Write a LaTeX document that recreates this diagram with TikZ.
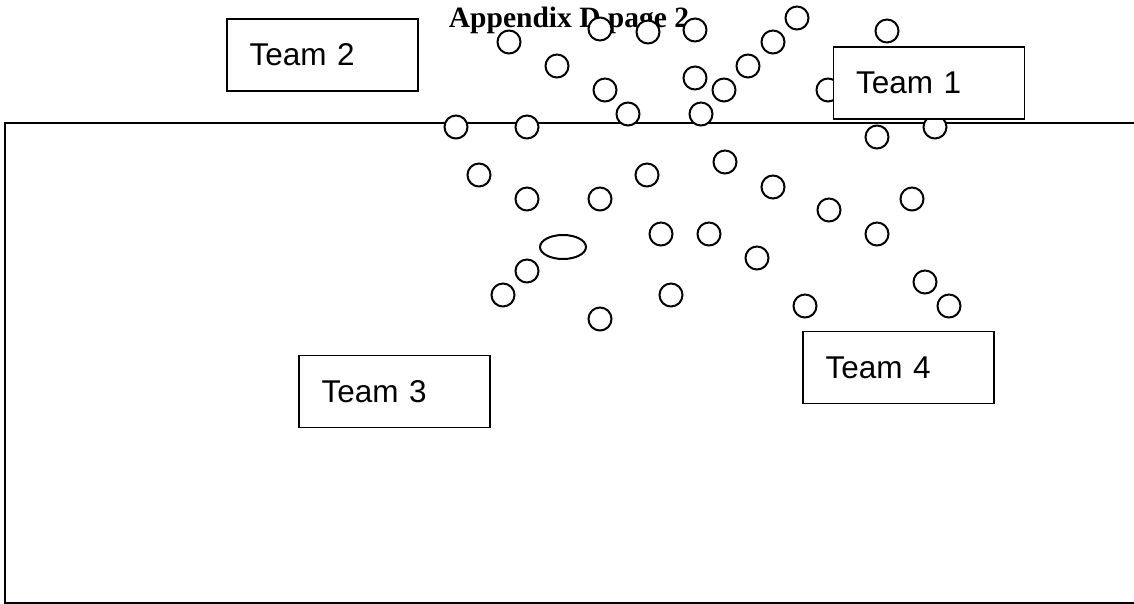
\documentclass[tikz,border=0pt]{standalone}
\usetikzlibrary{shapes.geometric}
\usepackage{fontspec}
\setmainfont{Liberation Serif}
\newfontfamily\teamfont{Liberation Sans}
\begin{document}
\begin{tikzpicture}[x=1pt,y=-1pt,
  dot/.style={circle,draw=black,fill=white,line width=2pt,minimum size=23pt,inner sep=0pt},
  oval/.style={ellipse,draw=black,fill=white,line width=2pt,minimum width=46pt,minimum height=24pt,inner sep=0pt},
  teambox/.style={draw=black,fill=white,line width=1.8pt,minimum height=72pt,
    text width=146pt,inner xsep=22.5pt,inner ysep=0pt,align=left,
    font=\teamfont\fontsize{31.5}{36}\selectfont},
  titletext/.style={font=\bfseries\fontsize{29.5}{34}\selectfont,inner sep=0pt,anchor=base}]
\useasboundingbox (0,0) rectangle (1134,604);
% field
\draw[line width=2.4pt] (1150,123) -- (5,123) -- (5,603) -- (1150,603);
% title
\node[titletext] (title) at (569,28) {Appendix D  page 2};
% circles
\foreach \n/\x/\y in {1/509/42,2/557/66,3/600/29,4/648/32,5/695/30,6/605/90,7/628/114,
  8/695/78,9/724/90,10/701/114,11/456/127,12/527/127,13/797/18,14/773/42,15/748/66,
  16/887/31,17/828/90,18/877/137,19/935/127,20/479/175,21/527/199,22/600/199,
  23/647/175,24/725/162,25/773/187,26/661/234,27/709/234,28/757/258,29/527/271,
  30/503/295,31/671/295,32/600/319,33/829/210,34/912/199,35/877/234,36/925/282,
  37/949/306,38/805/306}
  \node[dot] (c\n) at (\x,\y) {};
\node[oval] (ov) at (563,247) {};
% teams
\node[teambox] (team2) at (322.5,55) {Team 2};
\node[teambox] (team1) at (929,83) {Team 1};
\node[teambox] (team3) at (394.5,391.5) {Team 3};
\node[teambox] (team4) at (898.5,367.5) {Team 4};
\end{tikzpicture}
\end{document}
